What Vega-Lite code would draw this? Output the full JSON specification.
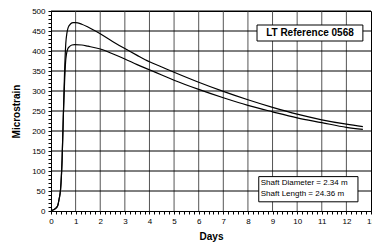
{
  "$schema": "https://vega.github.io/schema/vega-lite/v6.json",
  "width": 320,
  "height": 200,
  "autosize": {"type": "none"},
  "padding": {"left": 51, "top": 11, "right": 1, "bottom": 39},
  "background": "white",
  "config": {
    "font": "Liberation Sans",
    "view": {"stroke": "black", "strokeWidth": 1}
  },
  "datasets": {
    "vgrid": [{"day": 1}, {"day": 2}, {"day": 3}, {"day": 4}, {"day": 5}, {"day": 6}, {"day": 7}, {"day": 8}, {"day": 9}, {"day": 10}, {"day": 11}, {"day": 12}],
    "hgrid": [{"value": 50}, {"value": 100}, {"value": 150}, {"value": 200}, {"value": 250}, {"value": 300}, {"value": 350}, {"value": 400}, {"value": 450}, {"value": 500}],
    "curves": [
      {"series": "A", "day": 0, "value": 0},
      {"series": "A", "day": 0.1, "value": 3},
      {"series": "A", "day": 0.2, "value": 7},
      {"series": "A", "day": 0.28, "value": 15},
      {"series": "A", "day": 0.33, "value": 30},
      {"series": "A", "day": 0.39, "value": 55},
      {"series": "A", "day": 0.45, "value": 127},
      {"series": "A", "day": 0.5, "value": 235},
      {"series": "A", "day": 0.55, "value": 345},
      {"series": "A", "day": 0.6, "value": 418},
      {"series": "A", "day": 0.65, "value": 446},
      {"series": "A", "day": 0.7, "value": 459},
      {"series": "A", "day": 0.8, "value": 468},
      {"series": "A", "day": 0.9, "value": 471},
      {"series": "A", "day": 1.0, "value": 471},
      {"series": "A", "day": 1.25, "value": 467},
      {"series": "A", "day": 1.5, "value": 460},
      {"series": "A", "day": 2, "value": 443},
      {"series": "A", "day": 2.5, "value": 424},
      {"series": "A", "day": 3, "value": 406},
      {"series": "A", "day": 3.5, "value": 389},
      {"series": "A", "day": 4, "value": 373},
      {"series": "A", "day": 4.5, "value": 360},
      {"series": "A", "day": 5, "value": 347},
      {"series": "A", "day": 6, "value": 322},
      {"series": "A", "day": 7, "value": 299},
      {"series": "A", "day": 8, "value": 278},
      {"series": "A", "day": 9, "value": 259},
      {"series": "A", "day": 10, "value": 242},
      {"series": "A", "day": 11, "value": 228},
      {"series": "A", "day": 12, "value": 217},
      {"series": "A", "day": 12.67, "value": 211},
      {"series": "B", "day": 0, "value": 0},
      {"series": "B", "day": 0.1, "value": 3},
      {"series": "B", "day": 0.2, "value": 7},
      {"series": "B", "day": 0.28, "value": 15},
      {"series": "B", "day": 0.33, "value": 30},
      {"series": "B", "day": 0.39, "value": 55},
      {"series": "B", "day": 0.45, "value": 127},
      {"series": "B", "day": 0.5, "value": 235},
      {"series": "B", "day": 0.55, "value": 320},
      {"series": "B", "day": 0.59, "value": 370},
      {"series": "B", "day": 0.63, "value": 393},
      {"series": "B", "day": 0.68, "value": 405},
      {"series": "B", "day": 0.75, "value": 411},
      {"series": "B", "day": 0.85, "value": 415},
      {"series": "B", "day": 0.96, "value": 416},
      {"series": "B", "day": 1.25, "value": 415},
      {"series": "B", "day": 1.5, "value": 412},
      {"series": "B", "day": 2, "value": 405},
      {"series": "B", "day": 2.5, "value": 393},
      {"series": "B", "day": 3, "value": 380},
      {"series": "B", "day": 3.5, "value": 366},
      {"series": "B", "day": 4, "value": 353},
      {"series": "B", "day": 4.5, "value": 340},
      {"series": "B", "day": 5, "value": 327},
      {"series": "B", "day": 6, "value": 304},
      {"series": "B", "day": 7, "value": 283},
      {"series": "B", "day": 8, "value": 264},
      {"series": "B", "day": 9, "value": 248},
      {"series": "B", "day": 10, "value": 233},
      {"series": "B", "day": 11, "value": 221},
      {"series": "B", "day": 12, "value": 209},
      {"series": "B", "day": 12.67, "value": 204}
    ],
    "boxes": [
      {"x1": 8.37, "x2": 12.67, "y1": 425, "y2": 465},
      {"x1": 8.44, "x2": 12.47, "y1": 23, "y2": 86}
    ],
    "titles": [
      {"label": "LT Reference 0568", "day": 10.52, "value": 445}
    ],
    "notes": [
      {"label": "Shaft Diameter = 2.34 m", "day": 8.52, "value": 69},
      {"label": "Shaft Length = 24.36 m", "day": 8.52, "value": 42}
    ]
  },
  "layer": [
    {
      "data": {"name": "vgrid"},
      "mark": {"type": "rule", "color": "#555", "strokeWidth": 1},
      "encoding": {
        "x": {"field": "day", "type": "quantitative", "axis": null},
        "y": {"datum": 0, "type": "quantitative", "axis": null},
        "y2": {"datum": 500}
      }
    },
    {
      "data": {"name": "hgrid"},
      "mark": {"type": "rule", "color": "black", "strokeWidth": 1},
      "encoding": {
        "y": {"field": "value", "type": "quantitative", "axis": null},
        "x": {"datum": 0, "type": "quantitative", "axis": null},
        "x2": {"datum": 13}
      }
    },
    {
      "data": {"name": "curves"},
      "mark": {"type": "line", "color": "black", "strokeWidth": 1.2, "interpolate": "monotone"},
      "encoding": {
        "x": {"field": "day", "type": "quantitative", "scale": {"domain": [0, 13], "nice": false},
          "axis": {"orient": "bottom",
            "values": [0,0.2,0.4,0.6,0.8,1,1.2,1.4,1.6,1.8,2,2.2,2.4,2.6,2.8,3,3.2,3.4,3.6,3.8,4,4.2,4.4,4.6,4.8,5,5.2,5.4,5.6,5.8,6,6.2,6.4,6.6,6.8,7,7.2,7.4,7.6,7.8,8,8.2,8.4,8.6,8.8,9,9.2,9.4,9.6,9.8,10,10.2,10.4,10.6,10.8,11,11.2,11.4,11.6,11.8,12,12.2,12.4,12.6,12.8,13],
            "labelExpr": "abs(datum.value - round(datum.value)) < 0.001 ? format(datum.value, 'd') : ''",
            "title": "Days", "titleFontSize": 10, "titleFontWeight": "bold", "titlePadding": 6, "titleColor": "black", "titleFont": "Liberation Sans",
            "labelFontSize": 8, "labelPadding": 3, "labelOverlap": false, "labelBound": false, "labelFlush": false, "labelColor": "black", "labelFont": "Liberation Sans",
            "tickSize": 3, "tickColor": "black", "domainColor": "black",
            "grid": false}},
        "y": {"field": "value", "type": "quantitative", "scale": {"domain": [0, 500], "nice": false},
          "axis": {"orient": "left",
            "values": [0,10,20,30,40,50,60,70,80,90,100,110,120,130,140,150,160,170,180,190,200,210,220,230,240,250,260,270,280,290,300,310,320,330,340,350,360,370,380,390,400,410,420,430,440,450,460,470,480,490,500],
            "labelExpr": "abs(datum.value / 50 - round(datum.value / 50)) < 0.001 ? format(datum.value, 'd') : ''",
            "title": "Microstrain", "titleFontSize": 10, "titleFontWeight": "bold", "titlePadding": 10, "titleColor": "black", "titleFont": "Liberation Sans",
            "labelFontSize": 8, "labelPadding": 3, "labelOverlap": false, "labelColor": "black", "labelFont": "Liberation Sans",
            "tickSize": 3, "tickColor": "black", "domainColor": "black",
            "grid": false}},
        "detail": {"field": "series"}
      }
    },
    {
      "data": {"name": "boxes"},
      "mark": {"type": "rect", "fill": "white", "stroke": "black", "strokeWidth": 1},
      "encoding": {
        "x": {"field": "x1", "type": "quantitative", "axis": null},
        "x2": {"field": "x2"},
        "y": {"field": "y1", "type": "quantitative", "axis": null},
        "y2": {"field": "y2"}
      }
    },
    {
      "data": {"name": "titles"},
      "mark": {"type": "text", "font": "Liberation Sans", "fontSize": 10, "fontWeight": "bold", "align": "center", "baseline": "middle", "color": "black"},
      "encoding": {
        "x": {"field": "day", "type": "quantitative", "axis": null},
        "y": {"field": "value", "type": "quantitative", "axis": null},
        "text": {"field": "label"}
      }
    },
    {
      "data": {"name": "notes"},
      "mark": {"type": "text", "font": "Liberation Sans", "fontSize": 8, "align": "left", "baseline": "middle", "color": "black"},
      "encoding": {
        "x": {"field": "day", "type": "quantitative", "axis": null},
        "y": {"field": "value", "type": "quantitative", "axis": null},
        "text": {"field": "label"}
      }
    }
  ],
  "resolve": {"axis": {"x": "independent", "y": "independent"}}
}
